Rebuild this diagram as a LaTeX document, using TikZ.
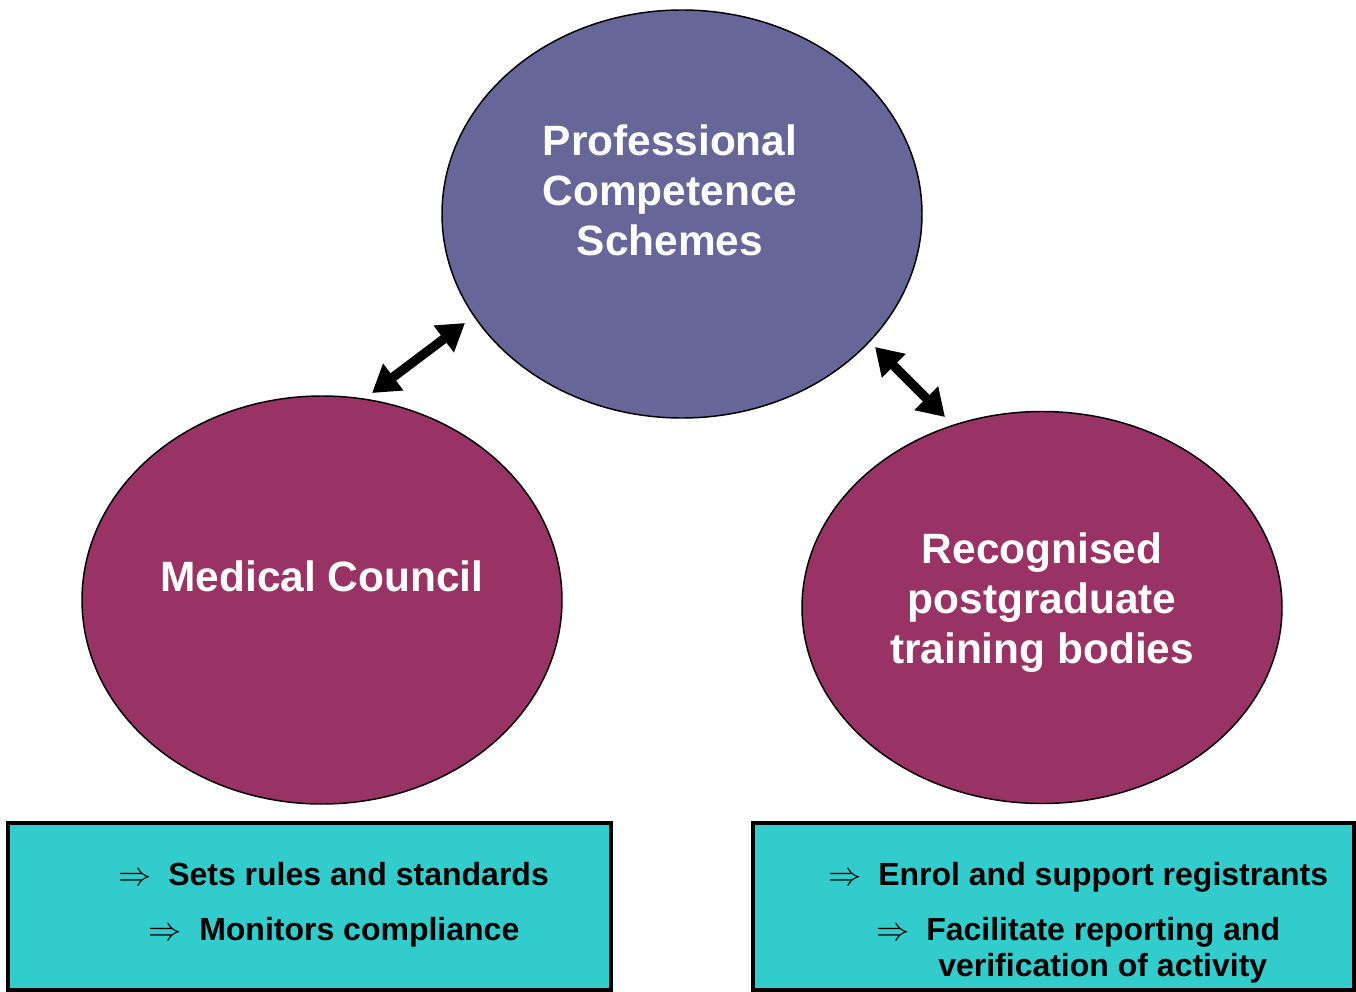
\documentclass[tikz,border=0pt]{standalone}
\usepackage{fontspec}
\setmainfont{Liberation Sans}
\usetikzlibrary{shapes.geometric,arrows.meta}
\definecolor{pcs}{HTML}{666699}
\definecolor{plum}{HTML}{993366}
\definecolor{tealbox}{HTML}{33CCCC}
\tikzset{
  circ/.style={ellipse, draw=black, line width=1.1pt, inner sep=0pt},
  ctext/.style={text=white, font=\fontsize{31.8}{37.5}\selectfont\bfseries, align=center, inner sep=0pt},
  infobox/.style={draw=black, line width=3pt, fill=tealbox, inner sep=0pt},
  btext/.style={font=\fontsize{24}{28}\selectfont\bfseries, inner sep=0pt, anchor=base west},
  imp/.style={font=\fontsize{24}{28}\selectfont, inner sep=0pt, anchor=base west},
  dbl/.style={line width=7pt, {Triangle[length=20pt,width=24pt]}-{Triangle[length=20pt,width=24pt]}}
}
\begin{document}
\begin{tikzpicture}[x=0.75pt,y=-0.75pt]
\useasboundingbox (0,0) rectangle (1356,992);
% ellipses
\node[circ, fill=pcs, minimum width=360pt, minimum height=306pt] (pcs) at (682,214) {};
\node[circ, fill=plum, minimum width=360pt, minimum height=306pt] (mc) at (322,600) {};
\node[circ, fill=plum, minimum width=360pt, minimum height=294pt] (rpt) at (1042,607.5) {};
% ellipse texts
\node[ctext] (pcst) at (670,190) {Professional\\Competence\\Schemes};
\node[ctext] (mct) at (322,576) {Medical Council};
\node[ctext] (rptt) at (1042,603) {Recognised\\postgraduate\\training bodies};
% arrows
\coordinate (a1) at (372,393);
\coordinate (a2) at (465,323);
\coordinate (b1) at (875,347);
\coordinate (b2) at (945,417);
\draw[dbl] (a1) -- (a2);
\draw[dbl] (b1) -- (b2);
% boxes
\node[infobox, minimum width=452pt, minimum height=125pt] (lbox) at (309.5,906.5) {};
\node[infobox, minimum width=451pt, minimum height=125pt] (rbox) at (1053.5,906.5) {};
% box texts
\node[imp] (l1a) at (118,885) {$\Rightarrow$};
\node[btext] (l1) at (168,885) {Sets rules and standards};
\node[imp] (l2a) at (148,940) {$\Rightarrow$};
\node[btext] (l2) at (199,940) {Monitors compliance};
\node[imp] (r1a) at (828,885) {$\Rightarrow$};
\node[btext] (r1) at (878,885) {Enrol and support registrants};
\node[imp] (r2a) at (876,940) {$\Rightarrow$};
\node[btext] (r2) at (926,940) {Facilitate reporting and};
\node[btext] (r3) at (938,976) {verification of activity};
\end{tikzpicture}
\end{document}
